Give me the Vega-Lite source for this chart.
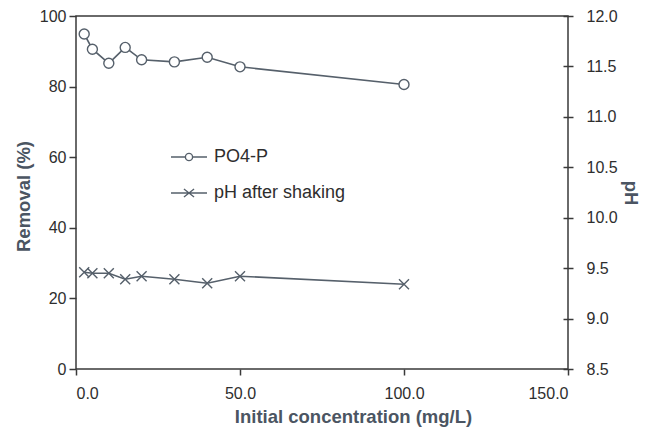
{
  "$schema": "https://vega.github.io/schema/vega-lite/v6.json",
  "width": 492,
  "height": 353,
  "autosize": {"type": "none"},
  "padding": {"left": 76, "top": 16, "right": 79, "bottom": 67},
  "background": "white",
  "config": {
    "view": {"stroke": "#3a3a3a", "strokeWidth": 1.5},
    "font": "Liberation Sans",
    "axis": {
      "grid": false,
      "domain": false,
      "labelFont": "Liberation Sans",
      "labelFontSize": 16,
      "labelColor": "#2e2e2e",
      "tickColor": "#3a3a3a",
      "tickWidth": 1.5,
      "titleFont": "Liberation Sans",
      "titleFontSize": 18.5,
      "titleFontWeight": "bold",
      "titleColor": "#4b5562"
    }
  },
  "data": {
    "values": [
      {"conc": 2.5, "removal": 94.9, "ph": 9.46},
      {"conc": 5, "removal": 90.6, "ph": 9.45},
      {"conc": 10, "removal": 86.6, "ph": 9.45},
      {"conc": 15, "removal": 91.1, "ph": 9.39},
      {"conc": 20, "removal": 87.6, "ph": 9.42},
      {"conc": 30, "removal": 87.0, "ph": 9.39},
      {"conc": 40, "removal": 88.3, "ph": 9.35},
      {"conc": 50, "removal": 85.6, "ph": 9.42},
      {"conc": 100, "removal": 80.6, "ph": 9.34}
    ]
  },
  "encoding": {
    "x": {
      "field": "conc",
      "type": "quantitative",
      "scale": {"domain": [0, 150], "nice": false},
      "axis": {
        "title": "Initial concentration (mg/L)",
        "values": [0, 50, 100, 150],
        "format": ".1f",
        "tickSize": 6,
        "labelPadding": 10,
        "titlePadding": 6,
        "titleX": 277
      }
    }
  },
  "layer": [
    {
      "encoding": {
        "y": {
          "field": "removal",
          "type": "quantitative",
          "scale": {"domain": [0, 100], "nice": false},
          "axis": {
            "orient": "left",
            "title": "Removal (%)",
            "values": [0, 20, 40, 60, 80, 100],
            "tickSize": 7,
            "labelPadding": 3,
            "titlePadding": 6,
            "titleY": 180
          }
        }
      },
      "layer": [
        {"mark": {"type": "line", "color": "#56606b", "strokeWidth": 1.6}},
        {
          "mark": {"type": "point", "shape": "circle", "filled": true, "fill": "white", "stroke": "#56606b", "strokeWidth": 1.4, "size": 100, "opacity": 1}
        },
        {
          "mark": {"type": "point", "filled": true, "fill": "white", "stroke": "#56606b", "size": 1, "opacity": 0},
          "encoding": {
            "shape": {
              "datum": "PO4-P",
              "type": "nominal",
              "scale": {
                "domain": ["PO4-P", "pH after shaking"],
                "range": [
                  "M-1,0L-0.2,0M0.2,0L1,0M0.2,0A0.2,0.2,0,1,1,-0.2,0A0.2,0.2,0,1,1,0.2,0",
                  "M-1,0L1,0M-0.28,-0.22L0.28,0.22M-0.28,0.22L0.28,-0.22"
                ]
              },
              "legend": {
                "title": null,
                "orient": "none",
                "direction": "vertical",
                "legendX": 94,
                "legendY": 122,
                "padding": 0,
                "rowPadding": 8,
                "labelFont": "Liberation Sans",
                "labelFontSize": 18,
                "labelColor": "#2e2e2e",
                "labelOffset": 6,
                "symbolSize": 1296,
                "symbolOpacity": 1,
                "symbolStrokeWidth": 1.4,
                "symbolStrokeColor": "#56606b",
                "symbolFillColor": "white",
                "encoding": {
                  "symbols": {
                    "size": {"value": 1296},
                    "fill": {"value": "white"},
                    "stroke": {"value": "#56606b"},
                    "strokeWidth": {"value": 1.4},
                    "opacity": {"value": 1}
                  }
                }
              }
            }
          }
        }
      ]
    },
    {
      "encoding": {
        "y": {
          "field": "ph",
          "type": "quantitative",
          "scale": {"domain": [8.5, 12], "nice": false},
          "axis": {
            "orient": "right",
            "title": "pH",
            "values": [8.5, 9, 9.5, 10, 10.5, 11, 11.5, 12],
            "format": ".1f",
            "offset": -5,
            "tickSize": 10,
            "labelPadding": 13,
            "titlePadding": 3
          }
        }
      },
      "layer": [
        {"mark": {"type": "line", "color": "#56606b", "strokeWidth": 1.6}},
        {
          "mark": {"type": "point", "shape": "M-1,-1L1,1M-1,1L1,-1", "filled": false, "stroke": "#56606b", "strokeWidth": 1.4, "size": 100, "opacity": 1}
        },
        {
          "mark": {"type": "point", "filled": true, "fill": "white", "stroke": "#56606b", "size": 1, "opacity": 0},
          "encoding": {"shape": {"datum": "pH after shaking", "type": "nominal"}}
        }
      ]
    }
  ],
  "resolve": {"scale": {"y": "independent"}}
}
